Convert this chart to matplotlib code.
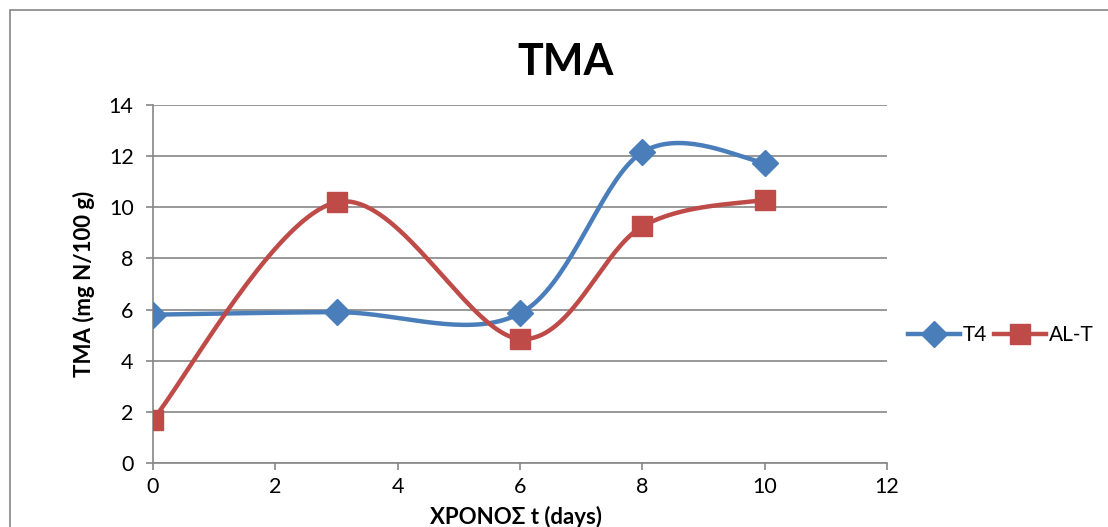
import numpy as np
import matplotlib
matplotlib.use("Agg")
import matplotlib.pyplot as plt
from matplotlib.patches import Rectangle

# Days of storage and TMA values (mg N/100 g)
dias = [0, 3, 6, 8, 10]
tma_t4 = [5.8, 5.9, 5.85, 12.15, 11.75]
tma_alt = [1.7, 10.2, 4.85, 9.25, 10.3]

AZUL = "#4A7EBB"
ROJO = "#BE4B48"
GRIS = "#868686"


def suavizar(x, y, pasos=40):
    # curva tipo Catmull-Rom, como la linea suavizada de Excel
    x = np.asarray(x, float)
    y = np.asarray(y, float)
    px = np.concatenate([[x[0]], x, [x[-1]]])
    py = np.concatenate([[y[0]], y, [y[-1]]])
    xs, ys = [], []
    t = np.linspace(0, 1, pasos)
    for i in range(1, len(px) - 2):
        p0 = np.array([px[i], py[i]])
        p3 = np.array([px[i + 1], py[i + 1]])
        c1 = p0 + (np.array([px[i + 1], py[i + 1]]) - np.array([px[i - 1], py[i - 1]])) / 6
        c2 = p3 - (np.array([px[i + 2], py[i + 2]]) - np.array([px[i], py[i]])) / 6
        b = ((1 - t) ** 3)[:, None] * p0 + (3 * (1 - t) ** 2 * t)[:, None] * c1 \
            + (3 * (1 - t) * t ** 2)[:, None] * c2 + (t ** 3)[:, None] * p3
        xs.extend(b[:, 0])
        ys.extend(b[:, 1])
    return xs, ys


plt.rcParams['font.family'] = ['Lato', 'DejaVu Sans']

fig = plt.figure(figsize=(11.08, 5.27), dpi=100)
ax = fig.add_axes([153 / 1108, 1 - 463 / 527, (887 - 153) / 1108, (463 - 105) / 527])

# borde del area del grafico
fig.patches.append(Rectangle((10 / 1108, -0.5), 2, 0.981 + 0.5, transform=fig.transFigure,
                             fill=False, edgecolor=GRIS, linewidth=1.2))

for ys, color, marca, tam, nombre in [(tma_t4, AZUL, "D", 13, "T4"),
                                      (tma_alt, ROJO, "s", 14, "AL-T")]:
    sx, sy = suavizar(dias, ys)
    ax.plot(sx, sy, color=color, linewidth=3.2, solid_capstyle="round", zorder=3)
    ax.plot(dias, ys, linestyle="none", marker=marca, markersize=tam, color=color, zorder=4)
    ax.plot([], [], color=color, linewidth=3.2, marker=marca, markersize=tam, label=nombre)

ax.set_xlim(0, 12)
ax.set_ylim(0, 14)
ax.set_xticks(range(0, 13, 2))
ax.set_yticks(range(0, 15, 2))
ax.grid(axis="y", color=GRIS, linewidth=1.2)
ax.set_axisbelow(True)
for lado in ["top", "right"]:
    ax.spines[lado].set_visible(False)
for lado in ["left", "bottom"]:
    ax.spines[lado].set_color(GRIS)
    ax.spines[lado].set_linewidth(1.2)
ax.tick_params(axis="both", labelsize=15.5, color=GRIS, length=5, width=1.2)
ax.tick_params(axis="y", pad=9)
ax.tick_params(axis="x", pad=5)

fig.text(566 / 1108, 1 - 62 / 527, "TMA", fontsize=31, fontweight="bold",
         ha="center", va="center")
ax.set_ylabel("TMA (mg N/100 g)", fontsize=16, fontweight="bold", labelpad=10)
fig.text(516 / 1108, 1 - 517 / 527, "ΧΡΟΝΟΣ t (days)", fontsize=16, fontweight="bold",
         ha="center", va="center")

fig.legend(loc="center left", bbox_to_anchor=(908 / 1108, 1 - 335 / 527), ncol=2,
           frameon=False, fontsize=15, handlelength=2.5, columnspacing=0.3,
           handletextpad=0.15, borderaxespad=0, borderpad=0)

fig.savefig("out.png", dpi=100)
